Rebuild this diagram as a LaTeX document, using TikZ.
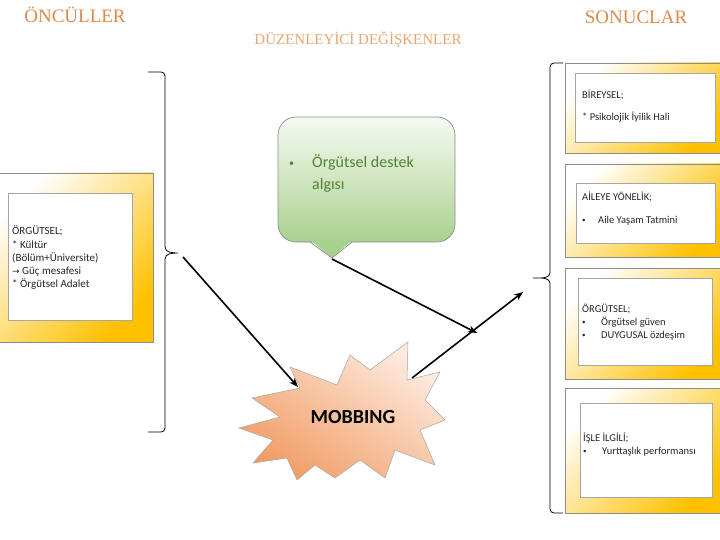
\documentclass[tikz,border=0pt]{standalone}
\usepackage{fontspec}
\setmainfont{Carlito}
\newfontfamily\titlefont{Liberation Serif}
\newfontfamily\arrowfont{DejaVu Sans}
\usepackage{tikz}
\usetikzlibrary{arrows.meta}
\usepackage{xcolor}

\definecolor{gold}{HTML}{FFC000}
\definecolor{framegray}{HTML}{8C8C8C}
\definecolor{innergray}{HTML}{A6A6A6}
\definecolor{textgray}{HTML}{262626}
\definecolor{titleorange}{HTML}{E0894C}
\definecolor{titlelight}{HTML}{E9A66E}
\definecolor{leafgreen}{HTML}{A9D18E}
\definecolor{leaftop}{HTML}{F6FAF2}
\definecolor{leaftext}{HTML}{548235}
\definecolor{burstdark}{HTML}{F29D66}
\definecolor{burstlight}{HTML}{FDEBDF}

\newcommand{\smallbul}[1]{\makebox[#1][l]{\fontsize{7}{7}\selectfont\raisebox{0.2ex}{•}}}

\tikzset{
  framebox/.style={draw=framegray, line width=0.6pt, top color=white,
    middle color=gold!25, bottom color=gold, shading angle=45},
  innerbox/.style={draw=innergray, line width=0.6pt, fill=white},
  boxtext/.style={font=\fontsize{10.5}{12}\selectfont, text=textgray,
    anchor=base west, inner sep=0pt},
  title/.style={font=\titlefont\fontsize{19}{19}\selectfont,
    text=titleorange, inner sep=0pt},
  bracket/.style={line width=0.8pt},
  flow/.style={line width=1.6pt, -{Stealth[length=9pt,width=7pt]}},
}

\begin{document}
\begin{tikzpicture}[x=1pt,y=-1pt]
  \useasboundingbox (0,0) rectangle (720,540);
  \clip (0,0) rectangle (720,540);

  % Titles
  \node[title] (oncul) at (75,15) {ÖNCÜLLER};
  \node[title] (sonuc) at (636,17) {SONUCLAR};
  \node[title, font=\titlefont\fontsize{15}{15}\selectfont, text=titlelight]
    (duzen) at (358,40) {DÜZENLEYİCİ DEĞİŞKENLER};

  % Left box (antecedents)
  \shade[framebox] (-5,173) rectangle (153,342);
  \draw[innerbox] (8,193) rectangle (132,320);
  \node[boxtext, font=\fontsize{11}{12}\selectfont] (org1) at (12,235) {ÖRGÜTSEL;};
  \node[boxtext, font=\fontsize{11}{12}\selectfont] (org2) at (12,248) {* Kültür};
  \node[boxtext, font=\fontsize{11}{12}\selectfont] (org3) at (12,261) {(Bölüm+Üniversite)};
  \node[boxtext, font=\fontsize{11}{12}\selectfont] (org4) at (12,274) {{\arrowfont\fontsize{9}{12}\selectfont →} Güç mesafesi};
  \node[boxtext, font=\fontsize{11}{12}\selectfont] (org5) at (12,287) {* Örgütsel Adalet};

  % Left bracket
  \draw[bracket] (148,72) -- (161,72) to[out=0,in=90] (165,76) -- (165,247)
    to[out=-90,in=180] (178,253) to[out=180,in=90] (165,259) -- (165,428)
    to[out=-90,in=0] (161,432) -- (148,432);
  \coordinate (lbtip) at (183,257);

  % Right bracket
  \draw[bracket] (563,63) -- (554,63) to[out=180,in=90] (550,67) -- (550,272)
    to[out=-90,in=0] (533,278) to[out=0,in=90] (550,284) -- (550,509)
    to[out=-90,in=180] (554,513) -- (563,513);
  \coordinate (rbtip) at (523,292);

  % Right boxes (outcomes)
  \shade[framebox] (565,63) rectangle (725,153);
  \draw[innerbox] (575,73) rectangle (715,142);
  \node[boxtext] (bir1) at (582,99) {BİREYSEL;};
  \node[boxtext] (bir2) at (582,121) {* Psikolojik İyilik Hali};

  \shade[framebox] (565,164) rectangle (725,257);
  \draw[innerbox] (576,183) rectangle (715,243);
  \node[boxtext] (aile1) at (582,201) {AİLEYE YÖNELİK;};
  \node[boxtext] (aile2) at (582,223) {\smallbul{16pt}Aile Yaşam Tatmini};

  \shade[framebox] (565,268) rectangle (725,379);
  \draw[innerbox] (578,278) rectangle (712,365);
  \node[boxtext] (orgs1) at (582,312) {ÖRGÜTSEL;};
  \node[boxtext] (orgs2) at (582,325) {\smallbul{19pt}Örgütsel güven};
  \node[boxtext] (orgs3) at (582,338) {\smallbul{19pt}DUYGUSAL özdeşim};

  \shade[framebox] (565,388) rectangle (725,513);
  \draw[innerbox] (580,403) rectangle (712,497);
  \node[boxtext] (is1) at (583,441) {İŞLE İLGİLİ;};
  \node[boxtext] (is2) at (583,454) {\smallbul{19pt}Yurttaşlık performansı};

  % Moderator callout
  \shade[draw=framegray, line width=0.7pt, rounded corners=18pt,
    top color=leaftop, bottom color=leafgreen] (278,117) rectangle (455,242);
  \fill[leafgreen] (309,239) -- (353,239) -- (332,258) -- cycle;
  \draw[framegray, line width=0.7pt] (310,242) -- (332,258) -- (352,242);
  \coordinate (destektip) at (332,259);
  \node[boxtext, font=\fontsize{16}{20}\selectfont, text=leaftext] (destek1)
    at (289,168) {\makebox[23pt][l]{\fontsize{10}{10}\selectfont\raisebox{0.3ex}{•}}Örgütsel destek};
  \node[boxtext, font=\fontsize{16}{20}\selectfont, text=leaftext] (destek2)
    at (312,190) {algısı};
  \coordinate (destekend) at (477,333);

  % Mobbing burst
  \shade[draw=gray!70, line width=0.5pt, top color=burstlight,
    bottom color=burstdark, shading angle=-35]
    (290,367) -- (337,385) -- (350,355) -- (370,370) -- (408,342)
    -- (407,380) -- (440,372) -- (425,400) -- (445,420) -- (420,430)
    -- (435,465) -- (395,450) -- (385,478) -- (360,460) -- (335,478)
    -- (315,465) -- (297,480) -- (287,458) -- (253,463) -- (273,440)
    -- (239,428) -- (280,417) -- (252,398) -- (300,388) -- cycle;
  \node[font=\bfseries\fontsize{20}{20}\selectfont, inner sep=0pt]
    (mobbing) at (353,417) {MOBBING};
  \coordinate (mobin) at (298,387);
  \coordinate (mobout) at (412,378);

  % Arrows
  \draw[flow] (lbtip) -- (mobin);
  \draw[flow] (destektip) -- (destekend);
  \draw[flow] (mobout) -- (rbtip);
\end{tikzpicture}
\end{document}
